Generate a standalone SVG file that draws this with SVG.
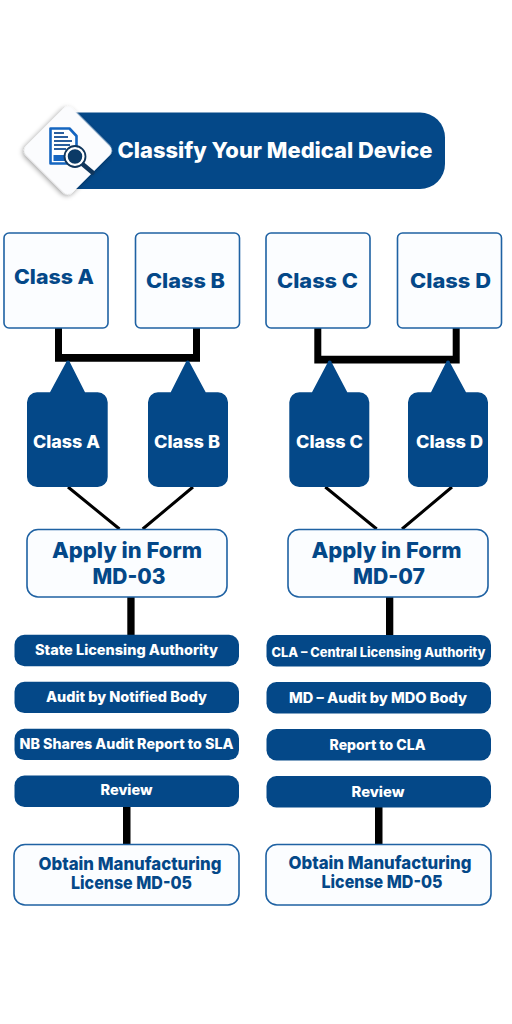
<svg xmlns="http://www.w3.org/2000/svg" width="512" height="1024" viewBox="0 0 512 1024">
<style>
text{font-family:"Inter","Liberation Sans",sans-serif;font-weight:800;text-anchor:middle}
.box{fill:#fbfdff;stroke:#1f62a3;stroke-width:1.6}
.navy{fill:#044888}
.tb{fill:#044888}
.tw{fill:#fff}
.conn{fill:#000}
.thin{stroke:#000;stroke-width:3;fill:none}
</style>
<defs>
<filter id="sh" x="-30%" y="-30%" width="160%" height="160%"><feDropShadow dx="0" dy="2" stdDeviation="2.500" flood-color="#000" flood-opacity="0.4"/></filter>
</defs>
<rect width="512" height="1024" fill="#fff"/>
<g id="connectors">
<path class="conn" d="M55 328h7v26h131v-26h7v33.700H55z"/>
<path class="conn" d="M314.300 328h7v27.700h131.400v-27.700h7v35.500H314.300z"/>
<path class="thin" d="M68 487L119.500 529M193 487L142.700 529M325.300 487L376.700 529M452 487L402 529"/>
<rect class="conn" x="127.300" y="597" width="7.300" height="38"/>
<rect class="conn" x="386" y="597" width="7.300" height="38"/>
<rect class="conn" x="123" y="807" width="7.500" height="38"/>
<rect class="conn" x="375" y="807" width="7.500" height="38"/>
</g>
<g id="header">
<path class="navy" d="M70 112.500H420a25 25 0 0 1 25 25v26.500a25 25 0 0 1-25 25H70z"/>
<text class="tw" x="275" y="158" font-size="22" textLength="315" lengthAdjust="spacingAndGlyphs">Classify Your Medical Device</text>
<rect x="35" y="117.500" width="66" height="66" rx="7" transform="rotate(45 68 150.500)" fill="#fbfcfe" filter="url(#sh)"/>
<g id="icon">
<path d="M50.500 128.500h19l7 7.500v27.500h-26z" fill="#fff" stroke="#1565c0" stroke-width="2.600" stroke-linejoin="round"/>
<path d="M54 133h10M54 137h14M54 141h18M54 145h16M54 149h12" stroke="#2b5f9e" stroke-width="1.900"/>
<rect x="53.500" y="155" width="12" height="6" fill="#1565c0"/>
<path d="M83 164.500L92.500 172.500" stroke="#10365c" stroke-width="4.500" stroke-linecap="round"/>
<circle cx="75" cy="156.500" r="8.500" fill="#0b3a66" stroke="#fff" stroke-width="2.500"/>
<circle cx="75" cy="156.500" r="10.500" fill="none" stroke="#10365c" stroke-width="1.800"/>
</g>
</g>
<g id="class-a-box"><rect class="box" x="4" y="233" width="104" height="95" rx="5"/><text class="tb" x="54" y="284" font-size="20" textLength="80" lengthAdjust="spacingAndGlyphs">Class A</text></g>
<g id="class-b-box"><rect class="box" x="135.500" y="233" width="104" height="95" rx="5"/><text class="tb" x="185.500" y="288" font-size="20" textLength="79" lengthAdjust="spacingAndGlyphs">Class B</text></g>
<g id="class-c-box"><rect class="box" x="266" y="233" width="104" height="95" rx="5"/><text class="tb" x="317.500" y="288" font-size="20" textLength="81" lengthAdjust="spacingAndGlyphs">Class C</text></g>
<g id="class-d-box"><rect class="box" x="397.500" y="233" width="104" height="95" rx="5"/><text class="tb" x="450.500" y="288" font-size="20" textLength="81" lengthAdjust="spacingAndGlyphs">Class D</text></g>
<g id="class-a-tag"><path class="navy" d="M37 392.300H50L66 362.500a2 2 0 0 1 4 0L85 392.300H97.700a10 10 0 0 1 10 10V477a10 10 0 0 1-10 10H37a10 10 0 0 1-10-10V402.300a10 10 0 0 1 10-10z"/><text class="tw" x="66.500" y="448" font-size="17" textLength="67" lengthAdjust="spacingAndGlyphs">Class A</text></g>
<g id="class-b-tag"><path class="navy" d="M158 392.300H170.700L185.700 362.500a2 2 0 0 1 4 0L205.700 392.300H218a10 10 0 0 1 10 10V477a10 10 0 0 1-10 10H158a10 10 0 0 1-10-10V402.300a10 10 0 0 1 10-10z"/><text class="tw" x="187" y="448" font-size="17" textLength="66" lengthAdjust="spacingAndGlyphs">Class B</text></g>
<g id="class-c-tag"><path class="navy" d="M299.300 392.300H312L327.700 362.500a2 2 0 0 1 4 0L347.300 392.300H359.300a10 10 0 0 1 10 10V477a10 10 0 0 1-10 10H299.300a10 10 0 0 1-10-10V402.300a10 10 0 0 1 10-10z"/><text class="tw" x="329.500" y="448" font-size="17" textLength="67" lengthAdjust="spacingAndGlyphs">Class C</text></g>
<g id="class-d-tag"><path class="navy" d="M418 392.300H431L446 362.500a2 2 0 0 1 4 0L466 392.300H478a10 10 0 0 1 10 10V477a10 10 0 0 1-10 10H418a10 10 0 0 1-10-10V402.300a10 10 0 0 1 10-10z"/><text class="tw" x="449.500" y="448" font-size="17" textLength="67" lengthAdjust="spacingAndGlyphs">Class D</text></g>
<g id="apply-03"><rect class="box" x="27" y="529.500" width="200" height="67.500" rx="11"/><text class="tb" x="127" y="558" font-size="22" textLength="150" lengthAdjust="spacingAndGlyphs">Apply in Form</text><text class="tb" x="129" y="584" font-size="22" textLength="73" lengthAdjust="spacingAndGlyphs">MD-03</text></g>
<g id="apply-07"><rect class="box" x="288" y="529.500" width="200" height="67.500" rx="11"/><text class="tb" x="386.500" y="558" font-size="22" textLength="150" lengthAdjust="spacingAndGlyphs">Apply in Form</text><text class="tb" x="389" y="584" font-size="22" textLength="72" lengthAdjust="spacingAndGlyphs">MD-07</text></g>
<g id="s1"><rect class="navy" x="14.500" y="634.800" width="224.500" height="31.400" rx="10"/><text class="tw" x="126.500" y="654.500" font-size="14" textLength="183" lengthAdjust="spacingAndGlyphs">State Licensing Authority</text></g>
<g id="s2"><rect class="navy" x="14.500" y="681.700" width="224.500" height="31.400" rx="10"/><text class="tw" x="126.500" y="701.500" font-size="14" textLength="161" lengthAdjust="spacingAndGlyphs">Audit by Notified Body</text></g>
<g id="s3"><rect class="navy" x="14.500" y="728.700" width="224.500" height="31.400" rx="10"/><text class="tw" x="126.500" y="748.500" font-size="14" textLength="214" lengthAdjust="spacingAndGlyphs">NB Shares Audit Report to SLA</text></g>
<g id="s4"><rect class="navy" x="14.500" y="775.500" width="224.500" height="31.400" rx="10"/><text class="tw" x="126.500" y="794.500" font-size="14" textLength="52" lengthAdjust="spacingAndGlyphs">Review</text></g>
<g id="r1"><rect class="navy" x="266.500" y="635" width="224.500" height="31.400" rx="10"/><text class="tw" x="378.500" y="656.500" font-size="13" textLength="214" lengthAdjust="spacingAndGlyphs">CLA – Central Licensing Authority</text></g>
<g id="r2"><rect class="navy" x="266.500" y="682" width="224.500" height="31.400" rx="10"/><text class="tw" x="378" y="703" font-size="14" textLength="178" lengthAdjust="spacingAndGlyphs">MD – Audit by MDO Body</text></g>
<g id="r3"><rect class="navy" x="266.500" y="729" width="224.500" height="31.400" rx="10"/><text class="tw" x="377.500" y="750" font-size="14" textLength="96" lengthAdjust="spacingAndGlyphs">Report to CLA</text></g>
<g id="r4"><rect class="navy" x="266.500" y="776" width="224.500" height="31.400" rx="10"/><text class="tw" x="378" y="797" font-size="14" textLength="53" lengthAdjust="spacingAndGlyphs">Review</text></g>
<g id="obtain-l"><rect class="box" x="14" y="844.500" width="225" height="60.500" rx="11"/><text class="tb" x="130" y="870" font-size="18" textLength="183" lengthAdjust="spacingAndGlyphs">Obtain Manufacturing</text><text class="tb" x="131.500" y="889" font-size="18" textLength="121" lengthAdjust="spacingAndGlyphs">License MD-05</text></g>
<g id="obtain-r"><rect class="box" x="266" y="844.500" width="225" height="60.500" rx="11"/><text class="tb" x="380" y="869" font-size="18" textLength="183" lengthAdjust="spacingAndGlyphs">Obtain Manufacturing</text><text class="tb" x="382" y="888" font-size="18" textLength="121" lengthAdjust="spacingAndGlyphs">License MD-05</text></g>
</svg>
